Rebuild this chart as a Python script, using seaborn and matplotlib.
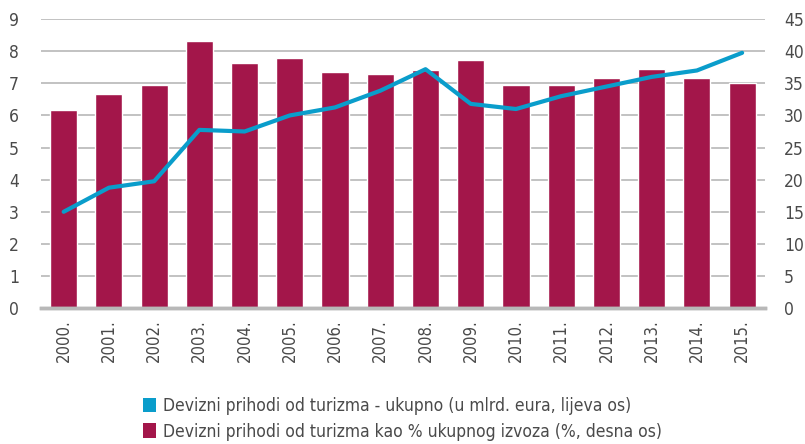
import numpy as np
import pandas as pd
import matplotlib
matplotlib.use("Agg")
import matplotlib.pyplot as plt
from matplotlib.patches import Patch
from matplotlib.ticker import FixedLocator
import seaborn as sns

years = ["2000.", "2001.", "2002.", "2003.", "2004.", "2005.", "2006.", "2007.",
         "2008.", "2009.", "2010.", "2011.", "2012.", "2013.", "2014.", "2015."]
# devizni prihodi od turizma, mlrd. eura (lijeva os)
prihodi = [3.0, 3.75, 3.95, 5.55, 5.5, 6.0, 6.25, 6.77,
           7.44, 6.36, 6.2, 6.6, 6.9, 7.2, 7.4, 7.95]
# udio u ukupnom izvozu, % (desna os)
udio = [30.9, 33.4, 34.8, 41.6, 38.1, 39.0, 36.7, 36.5,
        37.0, 38.7, 34.8, 34.8, 35.9, 37.3, 35.9, 35.1]

label_line = "Devizni prihodi od turizma - ukupno (u mlrd. eura, lijeva os)"
label_bar = "Devizni prihodi od turizma kao % ukupnog izvoza (%, desna os)"

bar_color = "#A3164A"
line_color = "#0A9DCB"
grid_color = "#B8B8B8"
text_color = "#4A4A4A"

sns.set_style("white")
plt.rcParams["font.family"] = ["DejaVu Sans"]
plt.rcParams["font.stretch"] = "condensed"

df = pd.DataFrame({"godina": years, "prihodi": prihodi, "udio": udio,
                   "pos": np.arange(len(years))})

fig = plt.figure(figsize=(8.05, 4.44), dpi=100)
ax = fig.add_axes([0.051, 0.306, 0.899, 0.651])

# bars on the base axes (right scale), line on the twin (left scale)
sns.barplot(data=df, x="godina", y="udio", color=bar_color, width=0.6,
            saturation=1, ax=ax)
ax2 = ax.twinx()
sns.lineplot(data=df, x="pos", y="prihodi", color=line_color, linewidth=3,
             ax=ax2)

ax.set_ylim(0, 45)
ax.set_yticks(np.arange(0, 46, 5))
ax.yaxis.tick_right()
ax.set_xlim(-0.5, len(years) - 0.5)
ax.grid(axis="y", color=grid_color, linewidth=1.2)
ax.set_axisbelow(True)
ax.set_xlabel("")
ax.set_ylabel("")

ax2.set_ylim(0, 9)
ax2.set_yticks(np.arange(0, 10, 1))
ax2.yaxis.tick_left()
ax2.set_xlim(-0.5, len(years) - 0.5)
ax2.set_xlabel("")
ax2.set_ylabel("")

for a in (ax, ax2):
    for side in ("top", "left", "right"):
        a.spines[side].set_visible(False)
    a.spines["bottom"].set_color(grid_color)
    a.spines["bottom"].set_linewidth(2.5)

ax.set_xticks(np.arange(len(years)))
ax.set_xticklabels(years, rotation=90)
ax.xaxis.set_minor_locator(FixedLocator(np.arange(-0.5, len(years), 1)))
ax.tick_params(axis="x", which="major", length=0, pad=8, labelsize=12,
               labelcolor=text_color)
ax.tick_params(axis="x", which="minor", length=6, width=2, color=grid_color,
               direction="out")
ax.tick_params(axis="y", length=0, pad=14, labelsize=12.5, labelcolor=text_color)
ax2.tick_params(axis="y", length=0, pad=16, labelsize=12.5, labelcolor=text_color)
ax2.tick_params(axis="x", length=0, labelbottom=False)

handles = [Patch(facecolor=line_color, edgecolor="none"),
           Patch(facecolor=bar_color, edgecolor="none")]
fig.legend(handles, [label_line, label_bar], loc="center",
           bbox_to_anchor=(0.5, 0.057), ncol=1, frameon=False,
           fontsize=12.5, labelcolor=text_color, handlelength=0.7,
           handleheight=0.9, handletextpad=0.4, labelspacing=0.45)

fig.savefig("out.png", dpi=100)
